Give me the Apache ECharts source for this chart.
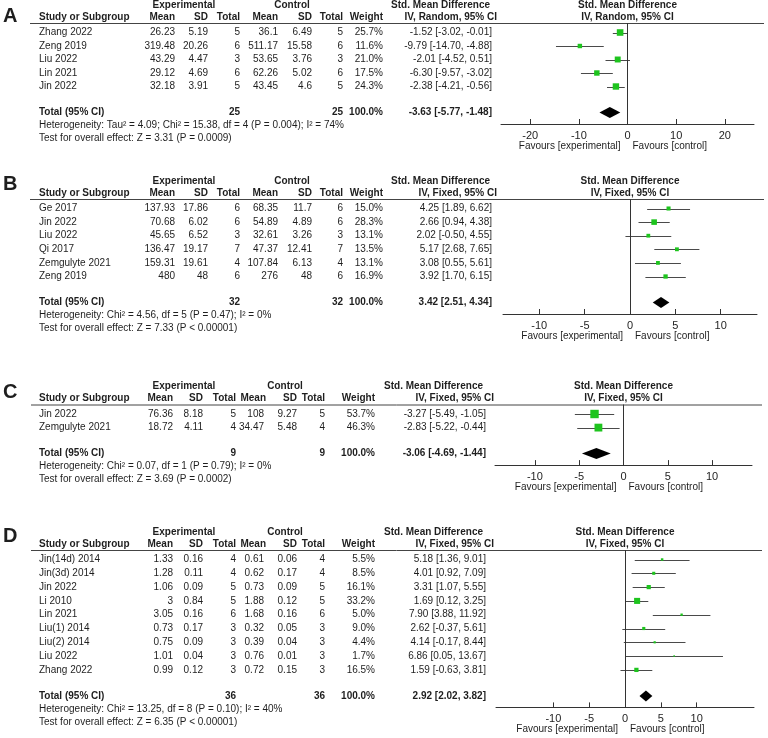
<!DOCTYPE html>
<html><head><meta charset="utf-8">
<script src="https://cdn.jsdelivr.net/npm/echarts@6.0.0/dist/echarts.min.js"></script>
<style>html,body{margin:0;padding:0;background:#fff}#c{width:768px;height:738px}</style>
</head><body><div id="c"></div>
<script>
// ---------- Panel A ----------
const studiesA = ['Zhang 2022','Zeng 2019','Liu 2022','Lin 2021','Jin 2022'];
const expMeanA = [26.23,319.48,43.29,29.12,32.18];
const expSDA   = [5.19,20.26,4.47,4.69,3.91];
const expNA    = [5,6,3,6,5];
const ctlMeanA = [36.1,511.17,53.65,62.26,43.45];
const ctlSDA   = [6.49,15.58,3.76,5.02,4.6];
const ctlNA    = [5,6,3,6,5];
const weightA  = [25.7,11.6,21.0,17.5,24.3];
const smdA     = [-1.52,-9.79,-2.01,-6.30,-2.38];
const lowA     = [-3.02,-14.70,-4.52,-9.57,-4.21];
const highA    = [-0.01,-4.88,0.51,-3.02,-0.56];
const totalA   = [25,25,100.0,-3.63,-5.77,-1.48];
const hetA     = ['Heterogeneity: Tau\u00b2 = 4.09; Chi\u00b2 = 15.38, df = 4 (P = 0.004); I\u00b2 = 74%','Test for overall effect: Z = 3.31 (P = 0.0009)'];
const ticksA   = [-20,-10,0,10,20];
// ---------- Panel B ----------
const studiesB = ['Ge 2017','Jin 2022','Liu 2022','Qi 2017','Zemgulyte 2021','Zeng 2019'];
const expMeanB = [137.93,70.68,45.65,136.47,159.31,480];
const expSDB   = [17.86,6.02,6.52,19.17,19.61,48];
const expNB    = [6,6,3,7,4,6];
const ctlMeanB = [68.35,54.89,32.61,47.37,107.84,276];
const ctlSDB   = [11.7,4.89,3.26,12.41,6.13,48];
const ctlNB    = [6,6,3,7,4,6];
const weightB  = [15.0,28.3,13.1,13.5,13.1,16.9];
const smdB     = [4.25,2.66,2.02,5.17,3.08,3.92];
const lowB     = [1.89,0.94,-0.50,2.68,0.55,1.70];
const highB    = [6.62,4.38,4.55,7.65,5.61,6.15];
const totalB   = [32,32,100.0,3.42,2.51,4.34];
const hetB     = ['Heterogeneity: Chi\u00b2 = 4.56, df = 5 (P = 0.47); I\u00b2 = 0%','Test for overall effect: Z = 7.33 (P < 0.00001)'];
const ticksB   = [-10,-5,0,5,10];
// ---------- Panel C ----------
const studiesC = ['Jin 2022','Zemgulyte 2021'];
const expMeanC = [76.36,18.72];
const expSDC   = [8.18,4.11];
const expNC    = [5,4];
const ctlMeanC = [108,34.47];
const ctlSDC   = [9.27,5.48];
const ctlNC    = [5,4];
const weightC  = [53.7,46.3];
const smdC     = [-3.27,-2.83];
const lowC     = [-5.49,-5.22];
const highC    = [-1.05,-0.44];
const totalC   = [9,9,100.0,-3.06,-4.69,-1.44];
const hetC     = ['Heterogeneity: Chi\u00b2 = 0.07, df = 1 (P = 0.79); I\u00b2 = 0%','Test for overall effect: Z = 3.69 (P = 0.0002)'];
const ticksC   = [-10,-5,0,5,10];
// ---------- Panel D ----------
const studiesD = ['Jin(14d) 2014','Jin(3d) 2014','Jin 2022','Li 2010','Lin 2021','Liu(1) 2014','Liu(2) 2014','Liu 2022','Zhang 2022'];
const expMeanD = [1.33,1.28,1.06,3,3.05,0.73,0.75,1.01,0.99];
const expSDD   = [0.16,0.11,0.09,0.84,0.16,0.17,0.09,0.04,0.12];
const expND    = [4,4,5,5,6,3,3,3,3];
const ctlMeanD = [0.61,0.62,0.73,1.88,1.68,0.32,0.39,0.76,0.72];
const ctlSDD   = [0.06,0.17,0.09,0.12,0.16,0.05,0.04,0.01,0.15];
const ctlND    = [4,4,5,5,6,3,3,3,3];
const weightD  = [5.5,8.5,16.1,33.2,5.0,9.0,4.4,1.7,16.5];
const smdD     = [5.18,4.01,3.31,1.69,7.90,2.62,4.14,6.86,1.59];
const lowD     = [1.36,0.92,1.07,0.12,3.88,-0.37,-0.17,0.05,-0.63];
const highD    = [9.01,7.09,5.55,3.25,11.92,5.61,8.44,13.67,3.81];
const totalD   = [36,36,100.0,2.92,2.02,3.82];
const hetD     = ['Heterogeneity: Chi\u00b2 = 13.25, df = 8 (P = 0.10); I\u00b2 = 40%','Test for overall effect: Z = 6.35 (P < 0.00001)'];
const ticksD   = [-10,-5,0,5,10];

// ---------- layout ----------
const FONT = '"Liberation Sans", Arial, sans-serif';
const TXT = '#1e1e1e';
const L1 = {name:39,eM:175,eS:208,eT:240,cM:278,cS:312,cT:343,w:383,smd:492,cMHdr:278,expHdr:184,ctlHdr:292,smdHdr:490,ivHdr:497,lineL:30,lineR:764};
const L2 = {name:39,eM:173,eS:203,eT:236,cM:264,cS:297,cT:325,w:375,smd:486,cMHdr:266,expHdr:184,ctlHdr:285,smdHdr:483,ivHdr:494,lineL:31,lineR:762};

const panels = [
  {letter:'A',studies:studiesA,eM:expMeanA,eS:expSDA,eN:expNA,cM:ctlMeanA,cS:ctlSDA,cN:ctlNA,w:weightA,smd:smdA,lo:lowA,hi:highA,tot:totalA,het:hetA,ticks:ticksA,method:'IV, Random, 95% CI',
   lay:{U:23,step:13.5,left:501,right:754,xMin:-26,xMax:26,k:1.3,cols:L1,letterY:16}},
  {letter:'B',studies:studiesB,eM:expMeanB,eS:expSDB,eN:expNB,cM:ctlMeanB,cS:ctlSDB,cN:ctlNB,w:weightB,smd:smdB,lo:lowB,hi:highB,tot:totalB,het:hetB,ticks:ticksB,method:'IV, Fixed, 95% CI',
   lay:{U:199,step:13.6,left:503,right:757,xMin:-14,xMax:14,k:1.05,cols:L1,letterY:184}},
  {letter:'C',studies:studiesC,eM:expMeanC,eS:expSDC,eN:expNC,cM:ctlMeanC,cS:ctlSDC,cN:ctlNC,w:weightC,smd:smdC,lo:lowC,hi:highC,tot:totalC,het:hetC,ticks:ticksC,method:'IV, Fixed, 95% CI',
   lay:{U:404.5,step:13.6,left:495,right:752,xMin:-14.5,xMax:14.5,k:1.15,cols:L2,letterY:392}},
  {letter:'D',studies:studiesD,eM:expMeanD,eS:expSDD,eN:expND,cM:ctlMeanD,cS:ctlSDD,cN:ctlND,w:weightD,smd:smdD,lo:lowD,hi:highD,tot:totalD,het:hetD,ticks:ticksD,method:'IV, Fixed, 95% CI',
   lay:{U:550,step:13.8,left:496,right:754,xMin:-18,xMax:18,k:1.05,cols:L2,letterY:536}}
];

const graphics = [], grids = [], xAxes = [], yAxes = [], series = [];
function txt(s, x, y, align, bold, size) {
  graphics.push({type:'text', x:x, y:y, silent:true,
    style:{text:s, font:(bold?'bold ':'')+(size||10)+'px '+FONT, fill:TXT,
      align:align, textAlign:align, verticalAlign:'middle', textVerticalAlign:'middle'}});
}
function fmtCI(e,l,h){ return e.toFixed(2)+' ['+l.toFixed(2)+', '+h.toFixed(2)+']'; }

panels.forEach((p, gi) => {
  const L = p.lay, C = L.cols, n = p.studies.length;
  const firstRow = L.U + 9.5;
  const rowY = i => firstRow + i * L.step;
  const totalIdx = (n - 1) + 26 / L.step;
  const totalY = rowY(totalIdx);
  const axisY = totalY + 11.5;
  const zeroX = L.left + (L.right - L.left) * (0 - L.xMin) / (L.xMax - L.xMin);
  const midX = (L.left + L.right) / 2;

  txt(p.letter, 3, L.letterY, 'left', true, 20);
  txt('Experimental', C.expHdr, L.U - 18, 'center', true);
  txt('Control', C.ctlHdr, L.U - 18, 'center', true);
  txt('Std. Mean Difference', C.smdHdr, L.U - 18, 'right', true);
  txt('Std. Mean Difference', midX, L.U - 18, 'center', true);
  const hy = L.U - 6;
  txt('Study or Subgroup', C.name, hy, 'left', true);
  txt('Mean', C.eM, hy, 'right', true);
  txt('SD', C.eS, hy, 'right', true);
  txt('Total', C.eT, hy, 'right', true);
  txt('Mean', C.cMHdr, hy, 'right', true);
  txt('SD', C.cS, hy, 'right', true);
  txt('Total', C.cT, hy, 'right', true);
  txt('Weight', C.w, hy, 'right', true);
  txt(p.method, C.ivHdr, hy, 'right', true);
  txt(p.method, midX, hy, 'center', true);
  graphics.push({type:'line', silent:true, shape:{x1:C.lineL, y1:L.U + 0.5, x2:C.lineR, y2:L.U + 0.5},
    style:{stroke:'#444', lineWidth:1}});
  for (let i = 0; i < n; i++) {
    const y = rowY(i);
    txt(p.studies[i], C.name, y, 'left');
    txt(String(p.eM[i]), C.eM, y, 'right');
    txt(String(p.eS[i]), C.eS, y, 'right');
    txt(String(p.eN[i]), C.eT, y, 'right');
    txt(String(p.cM[i]), C.cM, y, 'right');
    txt(String(p.cS[i]), C.cS, y, 'right');
    txt(String(p.cN[i]), C.cT, y, 'right');
    txt(p.w[i].toFixed(1) + '%', C.w, y, 'right');
    txt(fmtCI(p.smd[i], p.lo[i], p.hi[i]), C.smd, y, 'right');
  }
  txt('Total (95% CI)', C.name, totalY, 'left', true);
  txt(String(p.tot[0]), C.eT, totalY, 'right', true);
  txt(String(p.tot[1]), C.cT, totalY, 'right', true);
  txt(p.tot[2].toFixed(1) + '%', C.w, totalY, 'right', true);
  txt(fmtCI(p.tot[3], p.tot[4], p.tot[5]), C.smd, totalY, 'right', true);
  txt(p.het[0], C.name, totalY + 13, 'left');
  txt(p.het[1], C.name, totalY + 26, 'left');
  txt('Favours [experimental]', zeroX - 7, axisY + 22, 'right');
  txt('Favours [control]', zeroX + 5, axisY + 22, 'left');

  grids.push({left:L.left, width:L.right - L.left, top:L.U, height:axisY - L.U, containLabel:false});
  xAxes.push({type:'value', gridIndex:gi, min:L.xMin, max:L.xMax, position:'bottom',
    axisLine:{show:true, onZero:false, lineStyle:{color:'#333', width:1}},
    axisTick:{show:true, inside:true, length:5, lineStyle:{color:'#333'}, customValues:p.ticks},
    axisLabel:{show:true, customValues:p.ticks, fontSize:11, color:TXT, margin:6, fontFamily:FONT},
    splitLine:{show:false}});
  yAxes.push({type:'value', gridIndex:gi, inverse:true, axisLine:{onZero:false},
    min:(L.U - firstRow) / L.step, max:(axisY - firstRow) / L.step, show:false});

  const ciData = p.studies.map((s, i) => [p.lo[i], p.hi[i], i]);
  const ptData = p.studies.map((s, i) => [p.smd[i], i, p.w[i]]);
  series.push({type:'custom', xAxisIndex:gi, yAxisIndex:gi, silent:true, z:2,
    encode:{x:[0,1], y:2}, data:ciData,
    renderItem:(params, api) => {
      const a = api.coord([api.value(0), api.value(2)]);
      const b = api.coord([api.value(1), api.value(2)]);
      const yy = Math.round(a[1]) + 0.5;
      return {type:'line', shape:{x1:a[0], y1:yy, x2:b[0], y2:yy}, style:{stroke:'#4a4a4a', lineWidth:1}};
    }});
  const k = L.k;
  series.push({type:'scatter', xAxisIndex:gi, yAxisIndex:gi, silent:true, z:3,
    symbol:'rect', data:ptData,
    symbolSize:v => Math.max(1.5, k * Math.sqrt(v[2])),
    itemStyle:{color:'#1ec41e', opacity:1},
    markLine:{silent:true, symbol:['none','none'], label:{show:false},
      lineStyle:{color:'#333', width:1, type:'solid'}, data:[{xAxis:0}]}});
  series.push({type:'custom', xAxisIndex:gi, yAxisIndex:gi, silent:true, z:4,
    encode:{x:[0,1,2], y:3}, data:[[p.tot[3], p.tot[4], p.tot[5], totalIdx]],
    renderItem:(params, api) => {
      const m = api.coord([api.value(0), api.value(3)]);
      const l = api.coord([api.value(1), api.value(3)]);
      const h = api.coord([api.value(2), api.value(3)]);
      return {type:'polygon', shape:{points:[[l[0], m[1]], [m[0], m[1] - 5.5], [h[0], m[1]], [m[0], m[1] + 5.5]]},
        style:{fill:'#000'}};
    }});
});

const chart = echarts.init(document.getElementById('c'), null, {renderer:'canvas'});
chart.setOption({
  backgroundColor:'#fff', animation:false,
  textStyle:{fontFamily:FONT},
  grid:grids, xAxis:xAxes, yAxis:yAxes, series:series, graphic:graphics
});
</script></body></html>
